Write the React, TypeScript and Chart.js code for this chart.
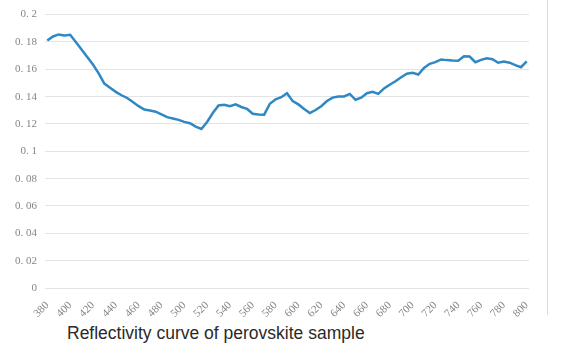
import React, { useEffect, useRef } from "react";
import { Chart, registerables } from "chart.js";

Chart.register(...registerables);

const wavelengths: number[] = [
  380, 385, 390, 395, 400, 405, 410, 415, 420, 425, 430, 435, 440, 445, 450, 455, 460, 465, 470, 475,
  480, 485, 490, 495, 500, 505, 510, 515, 520, 525, 530, 535, 540, 545, 550, 555, 560, 565, 570, 575,
  580, 585, 590, 595, 600, 605, 610, 615, 620, 625, 630, 635, 640, 645, 650, 655, 660, 665, 670, 675,
  680, 685, 690, 695, 700, 705, 710, 715, 720, 725, 730, 735, 740, 745, 750, 755, 760, 765, 770, 775,
  780, 785, 790, 795, 800,
];

const reflectivity: number[] = [
  0.181, 0.184, 0.1855, 0.1848, 0.1852, 0.18, 0.1745, 0.169, 0.1635, 0.157,
  0.1495, 0.1465, 0.1435, 0.141, 0.139, 0.136, 0.133, 0.1305, 0.1298, 0.129,
  0.127, 0.125, 0.124, 0.123, 0.1215, 0.1205, 0.118, 0.1163, 0.1215, 0.128,
  0.1335, 0.134, 0.133, 0.1343, 0.1324, 0.131, 0.1275, 0.127, 0.1268, 0.1348,
  0.138, 0.1396, 0.1425, 0.1367, 0.1343, 0.131, 0.128, 0.1302, 0.133, 0.1368,
  0.1393, 0.1401, 0.1401, 0.142, 0.1377, 0.1392, 0.1425, 0.1435, 0.142, 0.146,
  0.1487, 0.1512, 0.1542, 0.1567, 0.1574, 0.1562, 0.161, 0.164, 0.1652, 0.1672,
  0.1667, 0.1664, 0.1662, 0.1695, 0.1693, 0.1652, 0.1669, 0.168, 0.1674, 0.1648,
  0.1657, 0.1648, 0.163, 0.1615, 0.1657,
];

const xTickValues: number[] = [
  380, 400, 420, 440, 460, 480, 500, 520, 540, 560, 580, 600, 620, 640, 660, 680, 700, 720, 740, 760, 780, 800,
];

const yTickValues: number[] = [0, 0.02, 0.04, 0.06, 0.08, 0.1, 0.12, 0.14, 0.16, 0.18, 0.2];
const yTickLabels: string[] = ["0", "0. 02", "0. 04", "0. 06", "0. 08", "0. 1", "0. 12", "0. 14", "0. 16", "0. 18", "0. 2"];

const chartTitle = "Reflectivity curve of perovskite sample";

export default function App() {
  const canvasRef = useRef<HTMLCanvasElement | null>(null);

  useEffect(() => {
    if (!canvasRef.current) return;
    const tickFont = { family: "'Liberation Serif', 'DejaVu Serif', serif", size: 11 };
    const chart = new Chart(canvasRef.current, {
      type: "line",
      data: {
        datasets: [
          {
            data: wavelengths.map((x, i) => ({ x, y: reflectivity[i] })),
            borderColor: "#2f88c4",
            borderWidth: 2.5,
            pointRadius: 0,
            tension: 0,
            fill: false,
          },
        ],
      },
      options: {
        animation: false,
        responsive: false,
        maintainAspectRatio: false,
        layout: { padding: { top: 14, right: 32, left: 0, bottom: 0 } },
        plugins: {
          legend: { display: false },
          tooltip: { enabled: false },
          title: { display: false },
        },
        scales: {
          x: {
            type: "linear",
            min: 378,
            max: 802,
            afterBuildTicks: (scale: any) => {
              scale.ticks = xTickValues.map((v) => ({ value: v }));
            },
            afterFit: (scale: any) => {
              scale.height = 32;
            },
            grid: { display: false },
            border: { display: false },
            ticks: {
              autoSkip: false,
              minRotation: 45,
              maxRotation: 45,
              padding: 3,
              color: "#858585",
              font: tickFont,
              callback: (v: any) => String(v),
            },
          },
          y: {
            type: "linear",
            min: 0,
            max: 0.2,
            afterBuildTicks: (scale: any) => {
              scale.ticks = yTickValues.map((v) => ({ value: v }));
            },
            afterFit: (scale: any) => {
              scale.width = 45;
            },
            grid: { color: "#e4e4e4", lineWidth: 1, drawTicks: false },
            border: { display: false },
            ticks: {
              autoSkip: false,
              padding: 8,
              color: "#858585",
              font: tickFont,
              callback: (_v: any, i: number) => yTickLabels[i],
            },
          },
        },
      },
    } as any);
    return () => chart.destroy();
  }, []);

  return (
    <div
      style={{
        position: "fixed",
        left: 0,
        top: 0,
        width: 561,
        height: 349,
        background: "#ffffff",
        overflow: "hidden",
      }}
    >
      <canvas ref={canvasRef} width={561} height={320} style={{ position: "absolute", left: 0, top: 0, width: 561, height: 320 }} />
      <div
        style={{
          position: "absolute",
          left: 547,
          top: 0,
          width: 0,
          height: 315,
          borderLeft: "1px solid #dcdcdc",
        }}
      />
      <div
        style={{
          position: "absolute",
          left: 67,
          top: 325,
          fontFamily: "'Liberation Sans', Arial, sans-serif",
          fontSize: 17.5,
          lineHeight: "17.5px",
          color: "#2a2a2a",
          whiteSpace: "nowrap",
        }}
      >
        {chartTitle}
      </div>
    </div>
  );
}
